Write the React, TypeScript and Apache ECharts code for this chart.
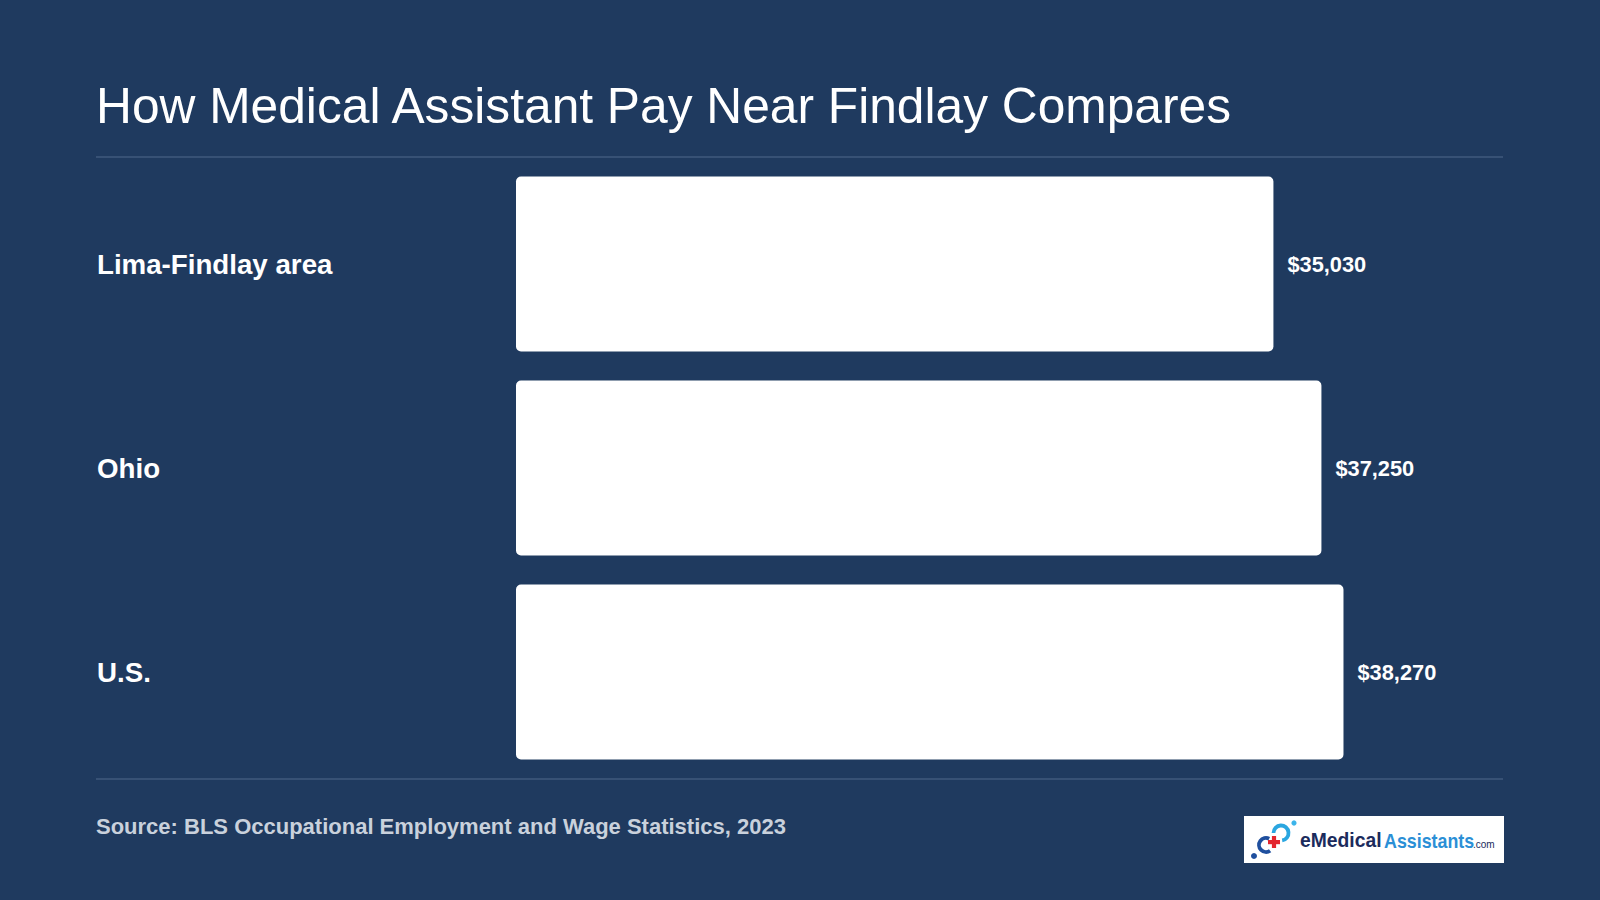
import React, { useEffect, useRef } from "react";
import * as echarts from "echarts";

const categories = ["Lima-Findlay area", "Ohio", "U.S."];
const wages = [35030, 37250, 38270];
const titleText = "How Medical Assistant Pay Near Findlay Compares";
const sourceText = "Source: BLS Occupational Employment and Wage Statistics, 2023";

const BG = "#1f3a5f";
const FONT = "'Liberation Sans', Arial, Helvetica, sans-serif";

export default function App() {
  const ref = useRef<HTMLDivElement>(null);
  useEffect(() => {
    if (!ref.current) return;
    const chart = echarts.init(ref.current, null, { renderer: "svg" });
    const option = {
      animation: false,
      backgroundColor: BG,
      grid: { left: 516, top: 162, width: 973, height: 612, containLabel: false },
      xAxis: {
        type: "value",
        min: 0,
        max: 45000,
        show: false,
        splitLine: { show: false },
      },
      yAxis: {
        type: "category",
        data: categories,
        inverse: true,
        axisLine: { show: false },
        axisTick: { show: false },
        axisLabel: {
          align: "left",
          margin: 419,
          color: "#ffffff",
          fontSize: 27.7,
          fontWeight: "bold",
          fontFamily: FONT,
        },
      },
      series: [
        {
          type: "bar",
          data: wages,
          barWidth: 175,
          itemStyle: { color: "#ffffff", borderRadius: 5 },
          label: {
            show: true,
            position: "right",
            distance: 14,
            color: "#ffffff",
            fontSize: 21.8,
            fontWeight: "bold",
            fontFamily: FONT,
            formatter: (p: any) => "$" + Number(p.value).toLocaleString("en-US"),
          },
        },
      ],
      graphic: [
        {
          type: "text",
          left: 96,
          top: 81,
          style: { text: titleText, fill: "#ffffff", fontSize: 49.7, fontFamily: FONT },
        },
        {
          type: "line",
          shape: { x1: 96, y1: 157, x2: 1503, y2: 157 },
          style: { stroke: "#415a7d", lineWidth: 1.5 },
        },
        {
          type: "line",
          shape: { x1: 96, y1: 779, x2: 1503, y2: 779 },
          style: { stroke: "#415a7d", lineWidth: 1.5 },
        },
        {
          type: "text",
          left: 96,
          top: 815,
          style: {
            text: sourceText,
            fill: "#c9d1dc",
            fontSize: 22,
            fontWeight: "bold",
            fontFamily: FONT,
          },
        },
        {
          type: "group",
          children: [
            {
              type: "rect",
              shape: { x: 1244, y: 816, width: 260, height: 47 },
              style: { fill: "#ffffff" },
            },
            {
              type: "arc",
              shape: { cx: 1266, cy: 845, r: 7, startAngle: Math.PI * 0.3, endAngle: Math.PI * 1.65 },
              style: { stroke: "#1f4f9e", lineWidth: 3.8, fill: "none" },
            },
            {
              type: "arc",
              shape: { cx: 1281, cy: 833, r: 7.5, startAngle: Math.PI * 1.0, endAngle: Math.PI * 2.45 },
              style: { stroke: "#2aa6e0", lineWidth: 3.8, fill: "none" },
            },
            {
              type: "circle",
              shape: { cx: 1294, cy: 823, r: 2.6 },
              style: { fill: "#3bb4ea" },
            },
            {
              type: "circle",
              shape: { cx: 1254, cy: 856, r: 3 },
              style: { fill: "#1f4f9e" },
            },
            {
              type: "rect",
              shape: { x: 1268, y: 840, width: 12, height: 4.2 },
              style: { fill: "#e3262e" },
            },
            {
              type: "rect",
              shape: { x: 1271.9, y: 836, width: 4.2, height: 12 },
              style: { fill: "#e3262e" },
            },
            {
              type: "text",
              x: 1300,
              y: 840,
              scaleX: 0.92,
              style: {
                text: "eMedical",
                fill: "#1b2b5c",
                fontSize: 21,
                fontWeight: "bold",
                fontFamily: FONT,
                verticalAlign: "middle",
              },
            },
            {
              type: "text",
              x: 1384,
              y: 840,
              scaleX: 0.85,
              style: {
                text: "Assistants",
                fill: "#2b8fd6",
                fontSize: 21,
                fontWeight: "bold",
                fontFamily: FONT,
                verticalAlign: "middle",
              },
            },
            {
              type: "text",
              x: 1473,
              y: 844,
              style: {
                text: ".com",
                fill: "#1b2b5c",
                fontSize: 10,
                fontFamily: FONT,
                verticalAlign: "middle",
              },
            },
          ],
        },
      ],
    };
    chart.setOption(option as any);
    return () => chart.dispose();
  }, []);
  return (
    <div
      ref={ref}
      style={{ position: "fixed", left: 0, top: 0, width: 1600, height: 900 }}
    />
  );
}
